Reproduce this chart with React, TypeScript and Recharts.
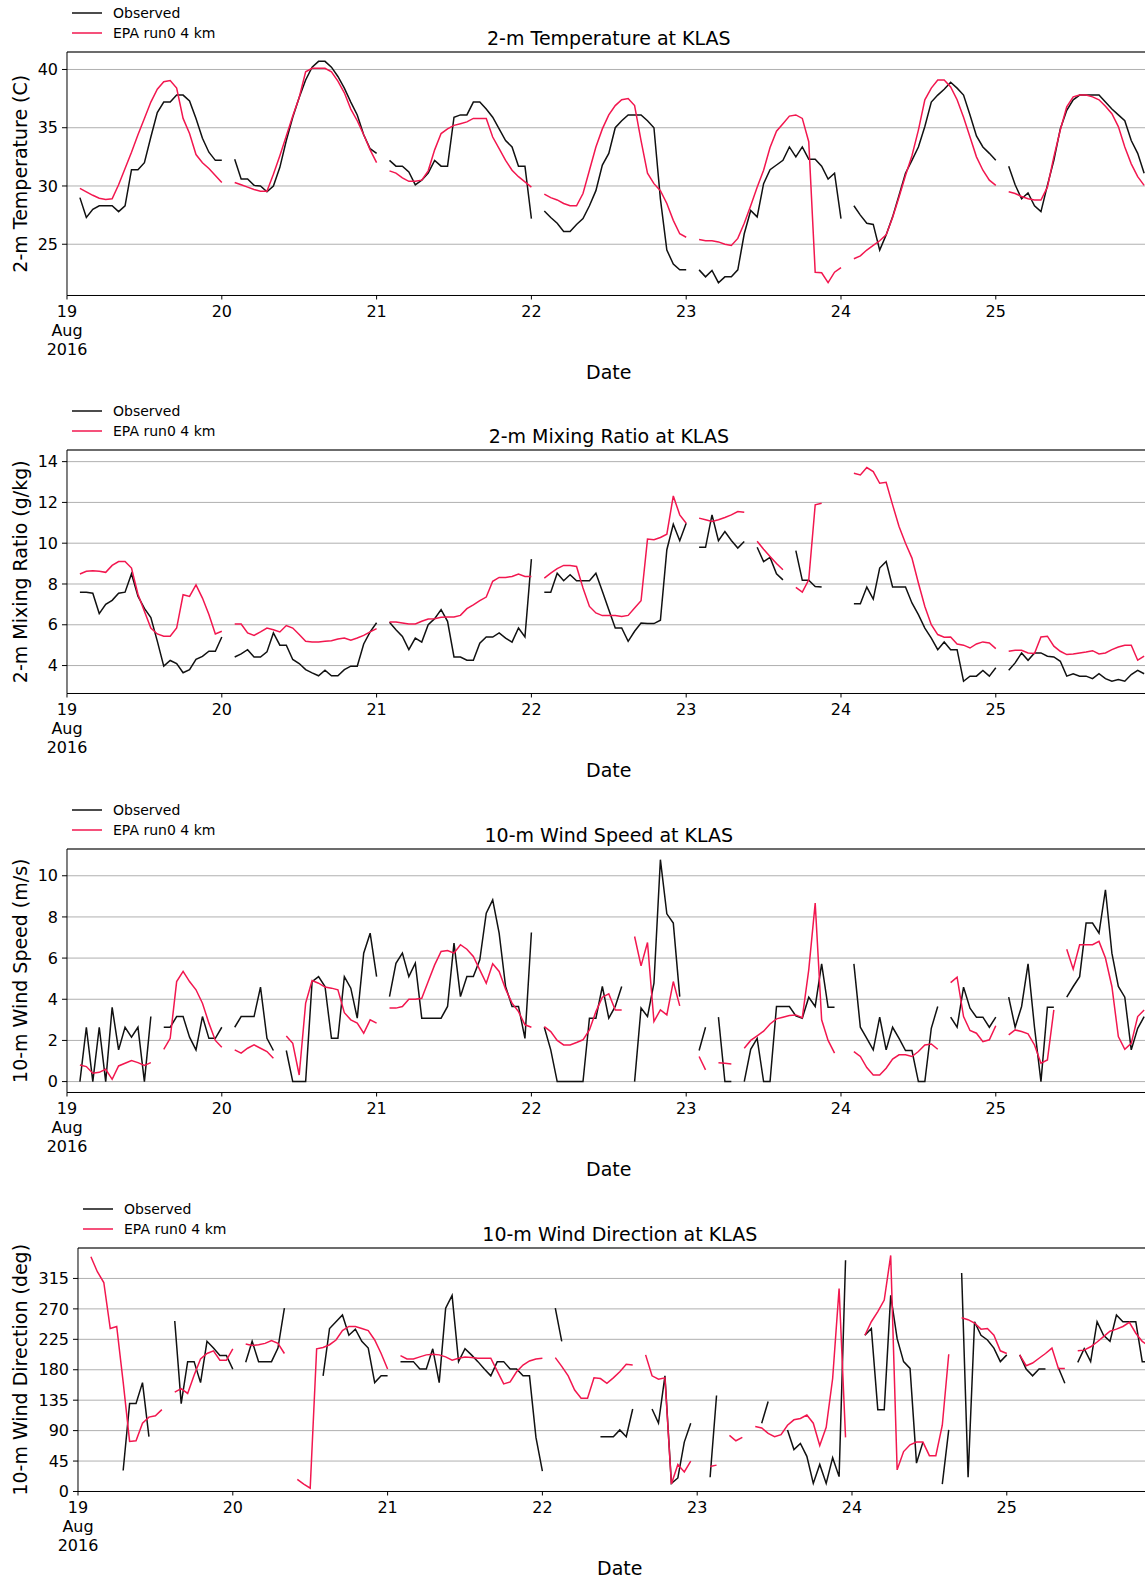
import { CartesianGrid, Line, LineChart, ReferenceLine, XAxis, YAxis } from "recharts";

const FONT = "'DejaVu Sans', Verdana, sans-serif";
const RED = "#f2174f";
const BLACK = "#111";
const GRID = "#b0b0b0";

const HOUR_PX = 6.45;
const HOURS = 168;
const PLOT_TOP = 52;
const PLOT_H = 243.5;
const XAXIS_H = 100;
const CHART_H = PLOT_TOP + PLOT_H + XAXIS_H;
const RIGHT_PAD = 12;

const n = null;
const hours = Array.from({ length: HOURS }, (_, h) => h);
// the 26 Aug tick sits past the right edge of the page, so it is left out
const dayTicks = [0, 24, 48, 72, 96, 120, 144];

// hourly values from 19 Aug 00h, one row per day
const tempObs = [
  n, n, 29.0, 27.3, 28.0, 28.3, 28.3, 28.3, 27.8, 28.3, 31.4, 31.4, 32.0, 34.2, 36.3, 37.2, 37.2, 37.8, 37.8, 37.3, 35.8, 34.1, 32.9, 32.2,
  32.2, n, 32.3, 30.6, 30.6, 30.05, 30.0, 29.5, 30.0, 31.6, 33.9, 35.9, 37.6, 39.1, 40.2, 40.7, 40.7, 40.2, 39.4, 38.4, 37.2, 36.1, 34.4, 33.2,
  32.8, n, 32.2, 31.7, 31.7, 31.2, 30.1, 30.5, 31.1, 32.2, 31.7, 31.7, 35.9, 36.1, 36.1, 37.2, 37.2, 36.6, 35.9, 34.9, 33.9, 33.35, 31.7, 31.7,
  27.2, n, 27.85, 27.3, 26.8, 26.1, 26.1, 26.7, 27.2, 28.3, 29.6, 31.8, 32.8, 35.0, 35.6, 36.1, 36.1, 36.1, 35.6, 35.0, 28.9, 24.5, 23.3, 22.8,
  22.8, n, 22.8, 22.2, 22.75, 21.7, 22.2, 22.2, 22.8, 25.9, 27.9, 27.35, 30.2, 31.4, 31.8, 32.2, 33.35, 32.5, 33.35, 32.3, 32.3, 31.7, 30.6, 31.1,
  27.2, n, 28.3, 27.5, 26.8, 26.7, 24.5, 25.8, 27.35, 29.2, 31.1, 32.2, 33.35, 35.1, 37.2, 37.8, 38.3, 38.9, 38.4, 37.8, 36.1, 34.3, 33.35, 32.8,
  32.2, n, 31.7, 30.1, 28.9, 29.4, 28.3, 27.8, 30.05, 32.2, 34.9, 36.5, 37.4, 37.8, 37.8, 37.8, 37.8, 37.2, 36.6, 36.1, 35.6, 33.9, 32.8, 31.1,
];
const tempMod = [
  n, n, 29.8, 29.5, 29.2, 28.95, 28.85, 28.9, 30.1, 31.5, 32.9, 34.4, 35.8, 37.2, 38.3, 38.95, 39.05, 38.4, 35.8, 34.5, 32.7, 32.0, 31.5, 30.9,
  30.3, n, 30.3, 30.1, 29.9, 29.7, 29.55, 29.55, 31.0, 32.6, 34.3, 36.0, 37.6, 39.8, 40.1, 40.1, 40.1, 39.8, 39.0, 38.0, 36.6, 35.6, 34.4, 33.1,
  32.0, n, 31.3, 31.1, 30.7, 30.4, 30.4, 30.5, 31.3, 33.1, 34.5, 34.9, 35.2, 35.35, 35.5, 35.8, 35.8, 35.8, 34.2, 33.2, 32.2, 31.35, 30.8, 30.35,
  29.9, n, 29.3, 29.0, 28.8, 28.5, 28.3, 28.3, 29.35, 31.35, 33.35, 34.9, 36.1, 36.9, 37.4, 37.5, 36.9, 33.9, 31.1, 30.2, 29.6, 28.5, 27.05, 25.9,
  25.6, n, 25.4, 25.3, 25.3, 25.2, 25.0, 24.9, 25.5, 26.8, 28.3, 29.9, 31.35, 33.3, 34.7, 35.35, 36.0, 36.1, 35.8, 33.8, 22.6, 22.55, 21.7, 22.6,
  23.0, n, 23.75, 24.0, 24.5, 24.9, 25.3, 25.8, 27.3, 29.05, 30.9, 32.6, 34.8, 37.4, 38.4, 39.1, 39.1, 38.5, 37.4, 35.9, 34.2, 32.5, 31.35, 30.5,
  30.05, n, 29.5, 29.35, 29.1, 28.9, 28.8, 28.8, 29.9, 32.5, 34.8, 36.8, 37.65, 37.8, 37.8, 37.65, 37.4, 36.85, 36.2, 35.1, 33.35, 31.9, 30.8, 30.05,
];

const mixObs = [
  n, n, 7.6, 7.6, 7.55, 6.55, 7.0, 7.2, 7.55, 7.6, 8.5, 7.4, 6.8, 6.35, 5.2, 3.97, 4.25, 4.1, 3.65, 3.8, 4.3, 4.45, 4.7, 4.7,
  5.4, n, 4.42, 4.57, 4.78, 4.42, 4.42, 4.67, 5.6, 5.0, 5.0, 4.3, 4.1, 3.8, 3.64, 3.5, 3.77, 3.5, 3.5, 3.8, 3.97, 3.97, 5.06, 5.65,
  6.1, n, 6.12, 5.76, 5.43, 4.78, 5.35, 5.15, 6.0, 6.3, 6.74, 6.17, 4.42, 4.42, 4.26, 4.26, 5.1, 5.4, 5.4, 5.6, 5.35, 5.15, 5.84, 5.4,
  9.22, n, 7.6, 7.6, 8.53, 8.16, 8.45, 8.16, 8.16, 8.16, 8.53, 7.64, 6.74, 5.84, 5.84, 5.19, 5.68, 6.09, 6.06, 6.06, 6.22, 9.68, 10.93, 10.12,
  10.98, n, 9.8, 9.8, 11.39, 10.12, 10.57, 10.13, 9.76, 10.08, n, 9.8, 9.1, 9.3, 8.5, 8.2, n, 9.64, 8.18, 8.18, 7.88, 7.85, n, n,
  n, n, 7.03, 7.03, 7.85, 7.26, 8.78, 9.1, 7.85, 7.85, 7.85, 7.07, 6.5, 5.84, 5.35, 4.78, 5.16, 4.78, 4.78, 3.23, 3.48, 3.48, 3.76, 3.48,
  3.89, n, 3.77, 4.13, 4.62, 4.26, 4.62, 4.62, 4.46, 4.42, 4.21, 3.48, 3.6, 3.48, 3.48, 3.36, 3.6, 3.36, 3.23, 3.31, 3.23, 3.56, 3.76, 3.6,
];
const mixMod = [
  n, n, 8.49, 8.62, 8.65, 8.62, 8.57, 8.91, 9.1, 9.1, 8.78, 7.5, 6.66, 5.84, 5.55, 5.44, 5.44, 5.84, 7.47, 7.39, 7.96, 7.31, 6.5, 5.55,
  5.68, n, 6.04, 6.04, 5.6, 5.48, 5.65, 5.84, 5.76, 5.65, 5.96, 5.84, 5.52, 5.19, 5.16, 5.16, 5.19, 5.22, 5.3, 5.35, 5.24, 5.35, 5.48, 5.65,
  5.81, n, 6.14, 6.14, 6.09, 6.04, 6.04, 6.17, 6.28, 6.3, 6.37, 6.38, 6.38, 6.46, 6.79, 6.98, 7.18, 7.36, 8.13, 8.32, 8.32, 8.37, 8.49, 8.37,
  8.37, n, 8.29, 8.53, 8.75, 8.91, 8.91, 8.86, 7.8, 6.9, 6.58, 6.45, 6.45, 6.45, 6.41, 6.46, 6.82, 7.18, 10.2, 10.17, 10.28, 10.44, 12.32, 11.39,
  10.98, n, 11.23, 11.15, 11.06, 11.15, 11.26, 11.39, 11.55, 11.52, n, 10.1, 9.7, 9.35, 9.0, 8.7, n, 7.83, 7.6, 8.2, 11.88, 11.96, n, n,
  n, n, 13.43, 13.35, 13.71, 13.51, 12.94, 12.99, 11.88, 10.82, 10.0, 9.27, 8.05, 6.9, 6.0, 5.52, 5.39, 5.4, 5.06, 5.0, 4.86, 5.06, 5.16, 5.11,
  4.83, n, 4.7, 4.75, 4.75, 4.62, 4.59, 5.4, 5.44, 4.95, 4.7, 4.54, 4.57, 4.62, 4.67, 4.73, 4.57, 4.62, 4.78, 4.91, 5.0, 5.0, 4.26, 4.46,
];

const speedObs = [
  n, n, 0, 2.64, 0, 2.64, 0, 3.61, 1.54, 2.64, 2.16, 2.64, 0, 3.16, n, 2.64, 2.64, 3.16, 3.16, 2.16, 1.54, 3.16, 2.1, 2.1,
  2.64, n, 2.64, 3.16, 3.16, 3.16, 4.59, 2.1, 1.51, n, 1.51, 0, 0, 0, 4.86, 5.1, 4.62, 2.1, 2.1, 5.1, 4.54, 3.08, 6.24, 7.21,
  5.1, n, 4.13, 5.75, 6.24, 5.1, 5.75, 3.08, 3.08, 3.08, 3.08, 3.65, 6.73, 4.13, 5.1, 5.1, 5.92, 8.18, 8.83, 7.21, 4.62, 3.65, 3.65, 2.1,
  7.24, n, 2.64, 1.54, 0, 0, 0, 0, 0, 3.08, 3.08, 4.62, 3.08, 3.65, 4.62, n, 0, 3.57, 3.16, 4.78, 10.78, 8.15, 7.7, 4.13,
  n, n, 1.51, 2.64, n, 3.13, 0, 0, n, 0, 1.57, 2.1, 0, 0, 3.65, 3.65, 3.65, 3.19, 3.08, 4.1, 3.65, 5.72, 3.61, 3.61,
  n, n, 5.72, 2.64, 2.1, 1.54, 3.13, 1.54, 2.64, 2.1, 1.51, 1.51, 0, 0, 2.59, 3.65, n, 3.13, 2.64, 4.59, 3.57, 3.13, 3.13, 2.64,
  3.13, n, 4.1, 2.64, 3.65, 5.72, 2.64, 0, 3.61, 3.61, n, 4.1, 4.62, 5.1, 7.7, 7.7, 7.21, 9.32, 6.24, 4.62, 4.1, 1.54, 2.59, 3.16,
];
const speedMod = [
  n, n, 0.81, 0.73, 0.41, 0.45, 0.6, 0.11, 0.76, 0.89, 1.02, 0.92, 0.78, 0.92, n, 1.57, 2.1, 4.86, 5.35, 4.86, 4.46, 3.81, 2.84, 2.0,
  1.67, n, 1.54, 1.38, 1.62, 1.78, 1.62, 1.46, 1.13, n, 2.22, 1.86, 0.32, 3.81, 4.91, 4.78, 4.59, 4.54, 4.46, 3.35, 3.0, 2.84, 2.35, 3.0,
  2.84, n, 3.57, 3.57, 3.65, 4.0, 4.0, 4.05, 4.86, 5.67, 6.32, 6.37, 6.24, 6.65, 6.43, 6.08, 5.43, 4.78, 5.72, 5.35, 4.49, 3.81, 3.4, 2.76,
  2.64, n, 2.67, 2.43, 2.0, 1.78, 1.78, 1.9, 2.03, 2.51, 3.4, 4.1, 4.26, 3.48, 3.48, n, 7.05, 5.62, 6.76, 2.92, 3.48, 3.24, 4.86, 3.68,
  n, n, 1.22, 0.57, n, 0.92, 0.89, 0.86, n, 1.62, 2.0, 2.22, 2.45, 2.8, 3.05, 3.13, 3.21, 3.24, 3.11, 5.43, 8.67, 3.0, 2.0, 1.38,
  n, n, 1.46, 1.22, 0.68, 0.32, 0.32, 0.65, 1.09, 1.3, 1.3, 1.22, 1.46, 1.78, 1.83, 1.57, n, 4.81, 5.07, 3.16, 2.48, 2.35, 1.94, 2.03,
  2.71, n, 2.27, 2.51, 2.43, 2.32, 1.78, 0.89, 1.05, 3.48, n, 6.43, 5.46, 6.65, 6.65, 6.65, 6.81, 6.0, 4.62, 2.19, 1.57, 1.86, 3.16, 3.48,
];

const dirObs = [
  n, n, n, n, n, n, n, 31, 130, 130, 161, 81, n, n, n, 252, 130, 192, 192, 161, 222, 212, 201, 201,
  181, n, 191, 222, 192, 192, 192, 212, 271, n, n, n, n, n, 171, 241, 251, 261, 231, 240, 222, 212, 161, 171,
  171, n, 192, 192, 192, 181, 181, 211, 161, 271, 290, 192, 211, 202, 192, 181, 171, 192, 192, 181, 181, 171, 171, 80,
  30, n, 271, 222, n, n, n, n, n, 81, 81, 81, 91, 81, 122, n, n, 122, 101, 171, 12, 20, 73, 101,
  n, n, 21, 142, n, n, n, n, n, n, 101, 133, n, n, 91, 62, 71, 52, 12, 40, 12, 50, 22, 342,
  n, n, 231, 241, 121, 121, 290, 226, 192, 182, 42, 73, n, n, 11, 91, n, 323, 21, 251, 231, 224, 212, 192,
  202, n, 202, 181, 171, 181, 181, n, 183, 160, n, 191, 211, 192, 251, 231, 222, 261, 251, 251, 251, 192, 192, n,
];
const dirMod = [
  n, n, 347, 325, 309, 241, 244, 162, 74, 75, 101, 110, 112, 121, n, 147, 152, 145, 172, 196, 204, 208, 194, 194,
  211, n, 218, 216, 217, 219, 223, 219, 204, n, 18, 11, 5, 211, 213, 217, 224, 238, 244, 244, 241, 238, 224, 204,
  181, n, 201, 196, 196, 199, 202, 203, 202, 199, 194, 197, 199, 198, 197, 197, 197, 178, 159, 162, 177, 187, 193, 196,
  197, n, 198, 185, 171, 150, 138, 138, 168, 167, 160, 168, 177, 188, 187, n, 202, 171, 166, 168, 11, 40, 29, 45,
  n, n, 37, 39, n, 83, 75, 80, n, 96, 94, 86, 81, 84, 98, 106, 108, 113, 101, 68, 95, 167, 300, 80,
  n, n, 231, 251, 266, 283, 349, 32, 59, 69, 73, 73, 53, 53, 98, 203, n, 257, 254, 249, 240, 241, 231, 208,
  204, n, 202, 186, 190, 197, 204, 212, 182, 182, n, 208, 209, 214, 221, 229, 237, 240, 244, 250, 234, 222, 215, 205,
];

type Series = (number | null)[];

type PanelProps = {
  top: number;
  left: number;
  title: string;
  yLabel: string;
  obs: Series;
  mod: Series;
  yDomain: [number, number];
  yTicks: number[];
};

function DayTick(props: any) {
  const { x, y, payload } = props;
  const day = 19 + Math.round(payload.value / 24);
  const first = payload.value === 0;
  return (
    <text x={x} y={y} textAnchor="middle" fill="#000" fontSize={16} fontFamily={FONT}>
      <tspan x={x} dy="0.71em">{day}</tspan>
      {first && <tspan x={x} dy={19}>Aug</tspan>}
      {first && <tspan x={x} dy={19}>2016</tspan>}
    </text>
  );
}

function Panel({ top, left, title, yLabel, obs, mod, yDomain, yTicks }: PanelProps) {
  const rows = hours.map((h) => ({ h, obs: obs[h], mod: mod[h] }));
  const plotW = HOURS * HOUR_PX;
  const width = left + plotW + RIGHT_PAD;
  const cx = left + plotW / 2;
  const cy = PLOT_TOP + PLOT_H / 2;
  const axisY = PLOT_TOP + PLOT_H;

  return (
    <div style={{ position: "absolute", top, left: 0, width, height: CHART_H }}>
      <LineChart
        width={width}
        height={CHART_H}
        data={rows}
        margin={{ top: PLOT_TOP, right: RIGHT_PAD, bottom: 0, left: 0 }}
      >
        <CartesianGrid vertical={false} stroke={GRID} strokeWidth={1} />
        <XAxis
          dataKey="h"
          type="number"
          domain={[0, HOURS]}
          ticks={dayTicks}
          interval={0}
          allowDataOverflow
          height={XAXIS_H}
          tickSize={4}
          tickMargin={6}
          axisLine={{ stroke: "#000", strokeWidth: 1 }}
          tickLine={{ stroke: "#000" }}
          tick={(p: any) => <DayTick {...p} />}
          label={() => (
            <text x={cx} y={axisY + 77} textAnchor="middle" dominantBaseline="central" fontSize={19} fill="#000" fontFamily={FONT}>
              Date
            </text>
          )}
        />
        <YAxis
          type="number"
          domain={yDomain}
          ticks={yTicks}
          interval={0}
          allowDataOverflow
          width={left}
          tickSize={5}
          tickMargin={4}
          axisLine={{ stroke: "#000", strokeWidth: 1 }}
          tickLine={{ stroke: "#000" }}
          tick={{ fill: "#000", fontSize: 16, fontFamily: FONT }}
          label={() => (
            <text
              x={20}
              y={cy}
              transform={`rotate(-90 20 ${cy})`}
              textAnchor="middle"
              dominantBaseline="central"
              fontSize={19}
              fill="#000"
              fontFamily={FONT}
            >
              {yLabel}
            </text>
          )}
        />
        <ReferenceLine y={yDomain[1]} stroke="#000" strokeWidth={1} />
        <Line type="linear" dataKey="obs" stroke={BLACK} strokeWidth={1.5} dot={false} activeDot={false} isAnimationActive={false} />
        <Line type="linear" dataKey="mod" stroke={RED} strokeWidth={1.5} dot={false} activeDot={false} isAnimationActive={false} />
      </LineChart>
      <svg width={width} height={50} style={{ position: "absolute", left: 0, top: 0, pointerEvents: "none" }}>
        <line x1={left + 5} x2={left + 35} y1={13} y2={13} stroke={BLACK} strokeWidth={1.5} />
        <text x={left + 46} y={13} dominantBaseline="central" fontSize={14} fill="#000" fontFamily={FONT}>
          Observed
        </text>
        <line x1={left + 5} x2={left + 35} y1={33} y2={33} stroke={RED} strokeWidth={1.5} />
        <text x={left + 46} y={33} dominantBaseline="central" fontSize={14} fill="#000" fontFamily={FONT}>
          EPA run0 4 km
        </text>
        <text x={cx} y={38} textAnchor="middle" dominantBaseline="central" fontSize={19} fill="#000" fontFamily={FONT}>
          {title}
        </text>
      </svg>
    </div>
  );
}

export default function App() {
  return (
    <div
      style={{
        position: "absolute",
        left: 0,
        top: 0,
        width: 1145,
        height: 1581,
        overflow: "hidden",
        background: "#fff",
        fontFamily: FONT,
      }}
    >
      <Panel
        top={0}
        left={67}
        title="2-m Temperature at KLAS"
        yLabel="2-m Temperature (C)"
        obs={tempObs}
        mod={tempMod}
        yDomain={[20.6, 41.5]}
        yTicks={[25, 30, 35, 40]}
      />
      <Panel
        top={398}
        left={67}
        title="2-m Mixing Ratio at KLAS"
        yLabel="2-m Mixing Ratio (g/kg)"
        obs={mixObs}
        mod={mixMod}
        yDomain={[2.63, 14.57]}
        yTicks={[4, 6, 8, 10, 12, 14]}
      />
      <Panel
        top={797}
        left={67}
        title="10-m Wind Speed at KLAS"
        yLabel="10-m Wind Speed (m/s)"
        obs={speedObs}
        mod={speedMod}
        yDomain={[-0.53, 11.3]}
        yTicks={[0, 2, 4, 6, 8, 10]}
      />
      <Panel
        top={1196}
        left={78}
        title="10-m Wind Direction at KLAS"
        yLabel="10-m Wind Direction (deg)"
        obs={dirObs}
        mod={dirMod}
        yDomain={[0, 360]}
        yTicks={[0, 45, 90, 135, 180, 225, 270, 315]}
      />
    </div>
  );
}
